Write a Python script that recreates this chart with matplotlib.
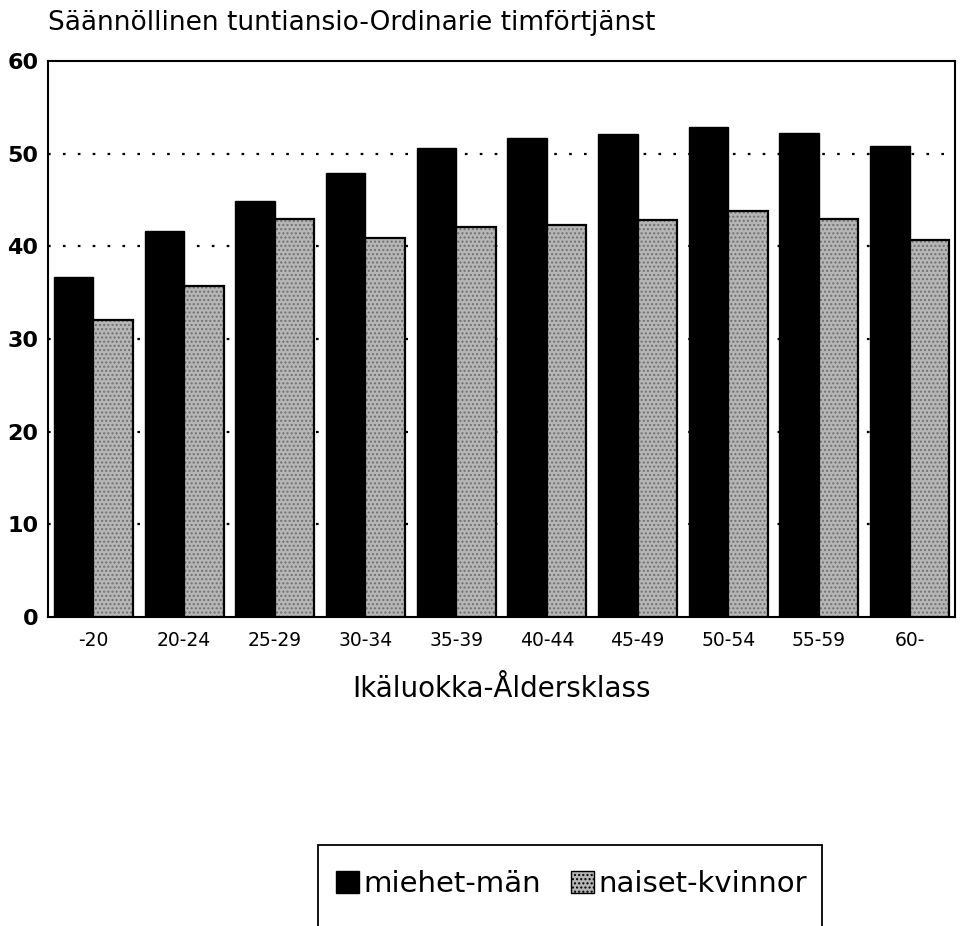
import matplotlib
matplotlib.use("Agg")
import matplotlib.pyplot as plt
import numpy as np
from matplotlib.patches import Patch, Rectangle

plt.rcParams['font.family'] = ['DejaVu Sans']

categories = ["-20", "20-24", "25-29", "30-34", "35-39", "40-44", "45-49", "50-54", "55-59", "60-"]
men = [36.7, 41.7, 44.9, 47.9, 50.6, 51.7, 52.1, 52.9, 52.2, 50.8]
women = [32.0, 35.7, 42.9, 40.9, 42.1, 42.3, 42.8, 43.8, 42.9, 40.7]
yticks = [0, 10, 20, 30, 40, 50, 60]
title = "Säännöllinen tuntiansio-Ordinarie timförtjänst"
xlabel = "Ikäluokka-Åldersklass"
labels = ["miehet-män", "naiset-kvinnor"]

fig = plt.figure(figsize=(9.66, 9.26), dpi=100)
ax = fig.add_axes([48/966, 1-617/926, (955-48)/966, (617-61)/926])

x = np.arange(len(categories))
w = 0.435
ax.bar(x - w/2, men, width=w, color='black', edgecolor='black', linewidth=1, zorder=3)
ax.bar(x + w/2, women, width=w, color='#b6b6b6', edgecolor='#707070', hatch='....', linewidth=0, zorder=3)
ax.bar(x + w/2, women, width=w, facecolor='none', edgecolor='black', linewidth=1.6, zorder=4)

ax.set_xlim(-0.5, len(categories) - 0.5)
ax.set_ylim(0, 60)
ax.set_yticks(yticks)
ax.set_yticklabels([str(t) for t in yticks], fontsize=16, fontweight='bold')
ax.set_xticks(x)
ax.set_xticklabels(categories, fontsize=13.5)
ax.tick_params(axis='both', length=0)
ax.tick_params(axis='x', pad=10)
ax.tick_params(axis='y', pad=7)
for t in yticks[1:-1]:
    ax.axhline(t, color='black', linestyle=(0, (1.2, 5.5)), linewidth=1.6, zorder=1)
for s in ax.spines.values():
    s.set_linewidth(1.5)
ax.set_xlabel(xlabel, fontsize=20, labelpad=18)
fig.text(48/966, 1-23/926, title, fontsize=19, va='center', ha='left')

# legend frame (extends past the bottom edge as in the reference)
fig.patches.append(Rectangle((318/966, -0.05), (822-318)/966, 0.05 + 1-845/926,
                             transform=fig.transFigure, facecolor='none',
                             edgecolor='black', linewidth=1.3))
handles = [Patch(facecolor='black', edgecolor='black'),
           Patch(facecolor='#b6b6b6', edgecolor='black', hatch='....')]
leg = fig.legend(handles, labels, loc='center left', bbox_to_anchor=(336/966, 1-884/926),
                 ncol=2, fontsize=21, frameon=False,
                 handlelength=0.8, handleheight=0.8, handletextpad=0.15, columnspacing=1.0,
                 borderpad=0, borderaxespad=0)

fig.savefig("out.png", dpi=100)
